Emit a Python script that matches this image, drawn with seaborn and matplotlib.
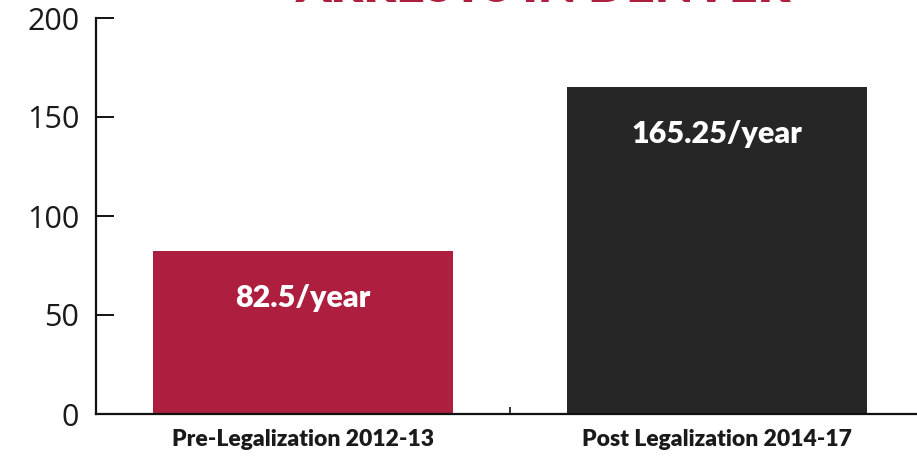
import matplotlib
matplotlib.use("Agg")
import matplotlib.pyplot as plt
import seaborn as sns
import pandas as pd

# Average arrests per year, before and after legalization
periods = ["Pre-Legalization 2012-13", "Post Legalization 2014-17"]
arrests_per_year = [82.5, 165.25]
bar_colors = ["#AE1F3F", "#262626"]
y_ticks = [0, 50, 100, 150, 200]
title = "ARRESTS IN DENVER"

df = pd.DataFrame({"period": periods, "arrests": arrests_per_year})

sns.set_theme(style="white")
plt.rcParams["font.family"] = ["Open Sans", "DejaVu Sans"]

fig = plt.figure(figsize=(9.17, 4.58), dpi=100)
ax = fig.add_axes([96 / 917, 1 - 414 / 458, 828 / 917, 396 / 458])

sns.barplot(data=df, x="period", y="arrests", hue="period",
            palette=bar_colors, width=0.725, legend=False, ax=ax,
            saturation=1, edgecolor="none")

ax.set_xlim(-0.5, 1.5)
ax.set_ylim(0, 200)
ax.set_yticks(y_ticks)
ax.set_yticklabels([str(t) for t in y_ticks], fontsize=22, color="#1a1a1a")
ax.set_xlabel("")
ax.set_ylabel("")

for side in ("top", "right"):
    ax.spines[side].set_visible(False)
for side in ("left", "bottom"):
    ax.spines[side].set_color("#111111")
    ax.spines[side].set_linewidth(1.6)

ax.tick_params(axis="y", direction="in", length=13, width=1.4,
               color="#111111", pad=12, left=True)

# category labels without ticks; small inward ticks at category boundaries
ax.set_xticks([0, 1])
ax.set_xticklabels(periods, fontsize=16.5, fontweight="heavy",
                   family=["Lato", "DejaVu Sans"], color="#1a1a1a")
ax.tick_params(axis="x", length=0, pad=11)
ax.set_xticks([0.5, 1.5], minor=True)
ax.tick_params(axis="x", which="minor", direction="in", length=5,
               width=1.2, color="#111111", bottom=True)

# value labels inside the bars
for i, v in enumerate(arrests_per_year):
    ax.text(i, v - 24, f"{v:g}/year", ha="center", va="center",
            color="white", fontsize=22, fontweight="heavy",
            family=["Lato", "DejaVu Sans"])

fig.text(543 / 917, 1 - 2 / 458, title, ha="center", va="baseline",
         color="#AE1F3F", fontsize=36, fontweight="heavy",
         family=["Lato", "DejaVu Sans"])

fig.savefig("out.png", dpi=100)
